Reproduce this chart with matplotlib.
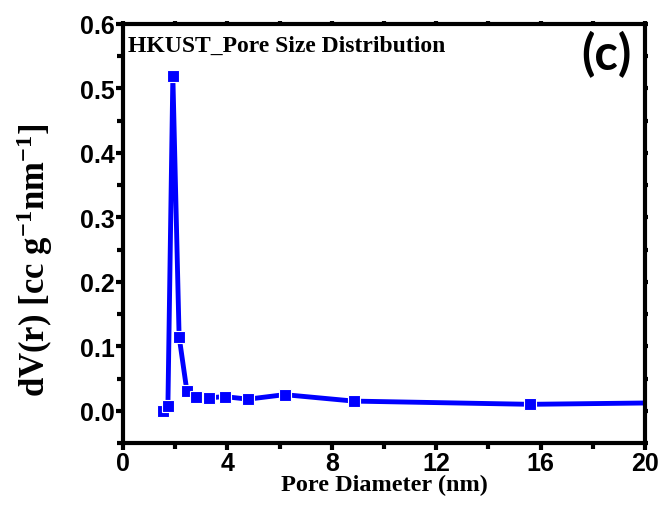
import matplotlib.pyplot as plt
from matplotlib.ticker import MultipleLocator

# data
pore_diameter = [1.52, 1.72, 1.91, 2.15, 2.45, 2.80, 3.28, 3.89, 4.79, 6.19, 8.84, 15.6, 22.0]
dv_r = [0.000, 0.007, 0.519, 0.115, 0.030, 0.021, 0.020, 0.022, 0.018, 0.025, 0.015, 0.010, 0.013]

plt.rcParams["mathtext.fontset"] = "custom"
plt.rcParams["mathtext.rm"] = "Liberation Serif:bold"
plt.rcParams["mathtext.it"] = "Liberation Serif:bold"
plt.rcParams["mathtext.bf"] = "Liberation Serif:bold"

fig = plt.figure(figsize=(6.62, 5.10), dpi=100)
ax = fig.add_axes([123 / 662, 1 - 444 / 510, (645 - 123) / 662, (444 - 25) / 510])

ax.plot(pore_diameter, dv_r, color="#0000ff", linewidth=3.5,
        marker="s", markersize=9, markeredgecolor="white", markeredgewidth=0.8,
        solid_capstyle="round")

ax.set_xlim(0, 20)
ax.set_ylim(-0.05, 0.6)
ax.xaxis.set_major_locator(MultipleLocator(4))
ax.xaxis.set_minor_locator(MultipleLocator(2))
ax.yaxis.set_major_locator(MultipleLocator(0.1))
ax.yaxis.set_minor_locator(MultipleLocator(0.05))
ax.yaxis.set_major_formatter(plt.FuncFormatter(lambda v, p: f"{v:.1f}"))

for s in ax.spines.values():
    s.set_linewidth(3)

ax.tick_params(which="major", direction="out", length=5, width=3,
               labelsize=18, pad=1, top=True, right=True)
ax.tick_params(which="minor", direction="out", length=4, width=3, top=True, right=True)
ax.tick_params(axis="both", which="both", labeltop=False, labelright=False)
for t in ax.get_xticklabels() + ax.get_yticklabels():
    t.set_fontfamily("Liberation Sans")
    t.set_fontweight("bold")
# tiny ticks on top and right
for line in ax.xaxis.get_ticklines(minor=False)[1::2] + ax.yaxis.get_ticklines(minor=False)[1::2]:
    line.set_markersize(2)
for line in ax.xaxis.get_ticklines(minor=True)[1::2] + ax.yaxis.get_ticklines(minor=True)[1::2]:
    line.set_markersize(2)

ax.set_xlabel("Pore Diameter (nm)", fontfamily="Liberation Serif", fontweight="bold",
              fontsize=17.5, labelpad=-1)
ax.set_ylabel(r"dV(r) [cc g$^{-1}$nm$^{-1}$]", fontfamily="Liberation Serif",
              fontweight="bold", fontsize=25)
ax.yaxis.set_label_coords(-0.13, 0.44)

ax.text(0.01, 0.975, "HKUST_Pore Size Distribution", transform=ax.transAxes,
        fontfamily="Liberation Serif", fontweight="bold", fontsize=17, va="top", ha="left")
ax.text(0.975, 0.985, "(c)", transform=ax.transAxes, fontfamily="Lato",
        fontweight="bold", fontsize=35, va="top", ha="right")

plt.savefig("out.png", dpi=100)
plt.close()
